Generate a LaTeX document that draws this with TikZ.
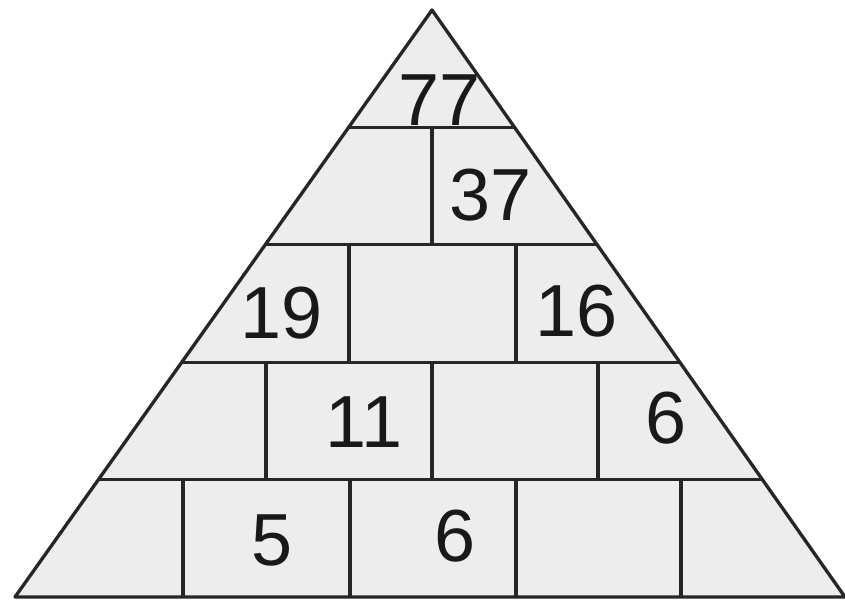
\documentclass[tikz,border=0pt]{standalone}
\usepackage{fontspec}
\setmainfont{Liberation Sans}
\usetikzlibrary{calc}

\begin{document}
\begin{tikzpicture}[x=0.02cm,y=-0.02cm,line width=1.9pt,draw=black!85,
  num/.style={font=\fontsize{42}{50}\selectfont,inner sep=0pt,text=black!90}]
\useasboundingbox (0,0) rectangle (845,600);
\coordinate (top) at (432,10);
\coordinate (bl) at (15,597);
\coordinate (br) at (845,597);
\draw[fill=black!7,line join=round] (top)--(bl)--(br)--cycle;
% rows
\foreach \t in {0.2,0.4,0.6,0.8}
  \draw ($(top)!\t!(bl)$)--($(top)!\t!(br)$);
% joints
\draw (432,127.4)--(432,244.8);
\foreach \x in {349,516} \draw (\x,244.8)--(\x,362.2);
\foreach \x in {266,432,598} \draw (\x,362.2)--(\x,479.6);
\foreach \x in {183,350,516,681} \draw (\x,479.6)--(\x,597);
% numbers
\node[num] (n77) at (440,100) {77};
\node[num] (n37) at (491,195) {37};
\node[num] (n19) at (282,313) {19};
\node[num] (n16) at (577,311) {16};
\node[num] (n11) at (364,422) {11};
\node[num] (n6a) at (666,418) {6};
\node[num] (n5) at (272,540) {5};
\node[num] (n6b) at (455,536) {6};
\end{tikzpicture}
\end{document}
